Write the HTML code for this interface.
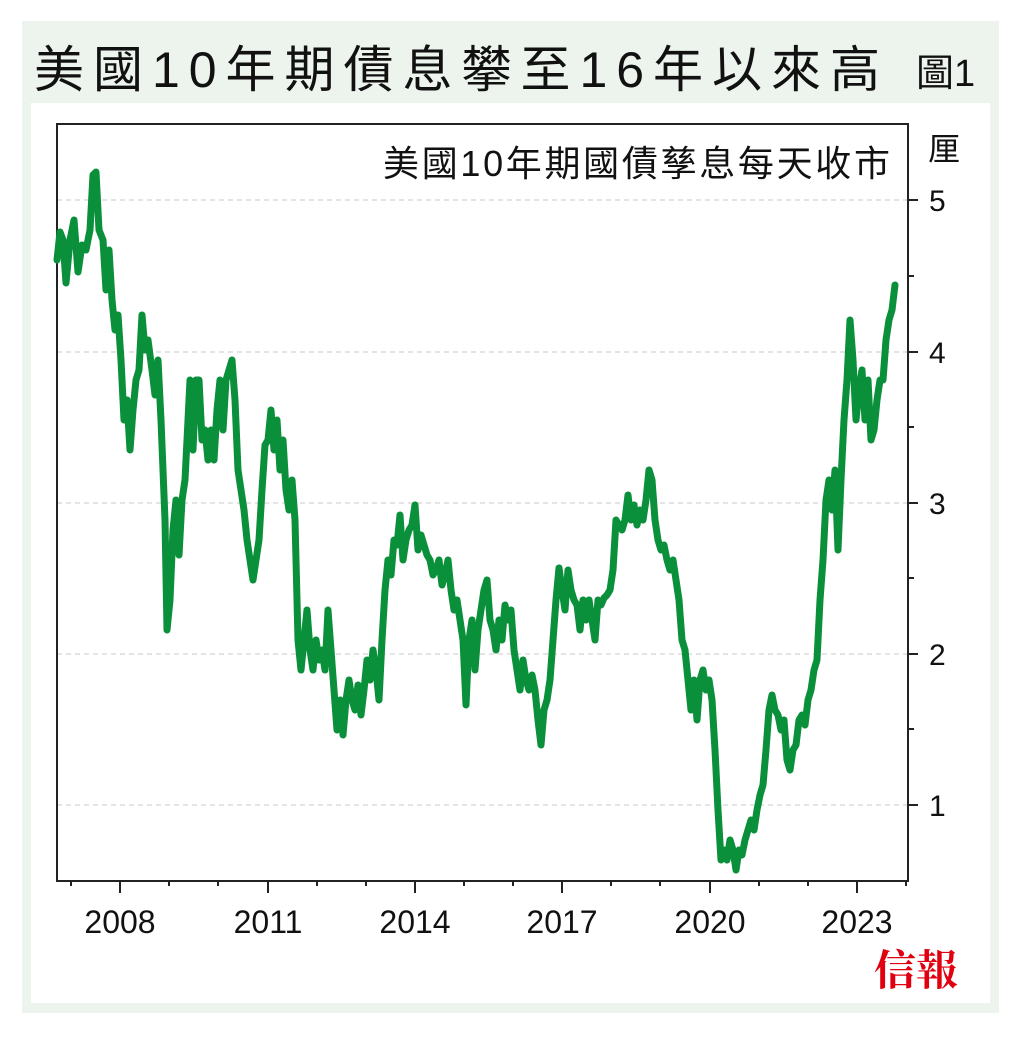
<!DOCTYPE html>
<html><head><meta charset="utf-8"><style>
body{margin:0;background:#fff;}
svg{display:block;font-family:"Liberation Sans","Noto Sans CJK TC",sans-serif;}
</style></head><body>
<svg width="1024" height="1039" viewBox="0 0 1024 1039">
<rect x="22" y="21" width="977" height="992" fill="#edf4ee"/>
<rect x="31" y="103" width="959" height="900" fill="#fff"/>
<text x="34" y="87" font-size="50" fill="#111" textLength="846" lengthAdjust="spacing">美國10年期債息攀至16年以來高</text>
<text x="916" y="86" font-size="38" fill="#111">圖1</text>
<g stroke="#c8c8c8" stroke-dasharray="5,4" stroke-width="1">
<line x1="57" x2="908" y1="200" y2="200"/><line x1="57" x2="908" y1="352" y2="352"/>
<line x1="57" x2="908" y1="503" y2="503"/><line x1="57" x2="908" y1="654" y2="654"/>
<line x1="57" x2="908" y1="805" y2="805"/></g>
<rect x="57" y="124" width="851" height="757" fill="none" stroke="#222" stroke-width="2"/>
<g stroke="#222" stroke-width="2">
<line x1="908" x2="918" y1="200" y2="200"/><line x1="908" x2="918" y1="352" y2="352"/><line x1="908" x2="918" y1="503" y2="503"/><line x1="908" x2="918" y1="654" y2="654"/><line x1="908" x2="918" y1="805" y2="805"/>
<line x1="908" x2="914" y1="276" y2="276"/><line x1="908" x2="914" y1="427" y2="427"/><line x1="908" x2="914" y1="578" y2="578"/><line x1="908" x2="914" y1="729" y2="729"/>
<line x1="120" x2="120" y1="881" y2="893"/><line x1="268" x2="268" y1="881" y2="893"/><line x1="415" x2="415" y1="881" y2="893"/><line x1="562" x2="562" y1="881" y2="893"/><line x1="710" x2="710" y1="881" y2="893"/><line x1="857" x2="857" y1="881" y2="893"/>
<line x1="71" x2="71" y1="881" y2="886"/><line x1="169" x2="169" y1="881" y2="886"/><line x1="218" x2="218" y1="881" y2="886"/><line x1="317" x2="317" y1="881" y2="886"/><line x1="366" x2="366" y1="881" y2="886"/><line x1="464" x2="464" y1="881" y2="886"/><line x1="513" x2="513" y1="881" y2="886"/><line x1="611" x2="611" y1="881" y2="886"/><line x1="660" x2="660" y1="881" y2="886"/><line x1="759" x2="759" y1="881" y2="886"/><line x1="808" x2="808" y1="881" y2="886"/><line x1="906" x2="906" y1="881" y2="886"/>
</g>
<g font-size="32" fill="#111" text-anchor="middle">
<text x="120" y="933">2008</text><text x="268" y="933">2011</text><text x="415" y="933">2014</text><text x="562" y="933">2017</text><text x="710" y="933">2020</text><text x="857" y="933">2023</text></g>
<g font-size="30" fill="#111">
<text x="929" y="211">5</text><text x="929" y="363">4</text><text x="929" y="514">3</text><text x="929" y="665">2</text><text x="929" y="816">1</text>
<text x="928" y="160" font-size="32">厘</text></g>
<text x="383" y="176" font-size="36" fill="#111" textLength="507" lengthAdjust="spacing">美國10年期國債孳息每天收市</text>
<text x="958" y="985" font-size="42" fill="#e0000f" font-weight="bold" text-anchor="end" font-family="'Noto Serif CJK SC',serif">信報</text>
<polyline fill="none" stroke="#0a8f3a" stroke-width="7" stroke-linejoin="round" stroke-linecap="round" points="57,260 60,232 63,240 66,283 70,240 74,220 78,272 82,245 86,250 90,230 93,175 96,172 99,230 103,240 106,290 109,250 112,300 115,330 118,315 121,360 124,420 127,400 130,450 133,410 136,380 139,370 142,315 145,350 148,340 152,370 155,395 158,360 161,420 165,520 167,630 170,600 173,530 176,500 179,555 182,500 185,480 188,420 190,380 193,450 196,380 199,380 202,440 205,430 208,460 211,430 214,460 217,410 220,380 223,430 226,380 229,370 232,360 235,400 238,470 241,490 244,510 247,540 250,560 253,580 256,560 259,540 262,490 265,445 268,440 271,410 274,450 277,420 280,470 283,440 286,490 289,510 292,480 295,520 298,640 301,670 304,640 307,610 310,650 313,670 316,640 319,660 322,650 325,670 328,610 331,650 334,690 337,730 340,700 343,735 346,700 349,680 352,700 355,710 358,685 361,715 364,690 367,660 370,680 373,650 376,670 379,700 382,640 385,590 388,560 391,575 394,540 397,545 400,515 403,560 406,540 409,530 412,525 415,505 418,550 421,535 424,545 427,555 430,560 433,575 436,570 439,560 442,585 445,575 448,560 451,590 454,610 457,600 460,620 463,640 466,705 469,640 472,620 475,670 478,630 481,610 484,590 487,580 490,620 493,630 496,650 499,620 502,640 505,605 508,620 511,610 514,650 517,670 520,690 523,660 526,680 529,690 532,675 535,690 538,720 541,745 544,710 547,700 550,680 553,640 556,600 559,568 562,590 565,610 568,570 571,590 574,600 577,605 580,630 583,600 586,620 589,600 592,620 595,640 598,600 601,605 604,598 607,595 610,590 613,570 616,520 619,525 622,530 625,520 628,495 631,520 634,505 637,525 640,510 643,520 646,500 649,470 652,480 655,520 658,540 661,550 664,545 667,560 670,570 673,560 676,580 679,600 682,640 685,650 688,680 691,710 694,680 697,720 700,680 703,670 706,690 709,680 712,700 715,750 718,810 721,860 724,850 727,860 730,840 733,850 736,870 739,850 742,855 745,840 748,830 751,820 754,830 757,810 760,795 763,785 766,750 769,710 772,695 775,710 778,715 781,730 784,720 787,760 790,770 793,750 796,745 799,720 802,715 805,725 808,700 811,690 814,670 817,660 820,600 823,560 826,500 829,480 832,510 835,470 838,550 841,480 844,420 847,380 850,320 853,360 856,420 859,390 862,370 865,420 868,380 871,440 874,430 877,400 880,380 883,380 886,340 889,320 892,310 895,285"/>
</svg>
</body></html>
